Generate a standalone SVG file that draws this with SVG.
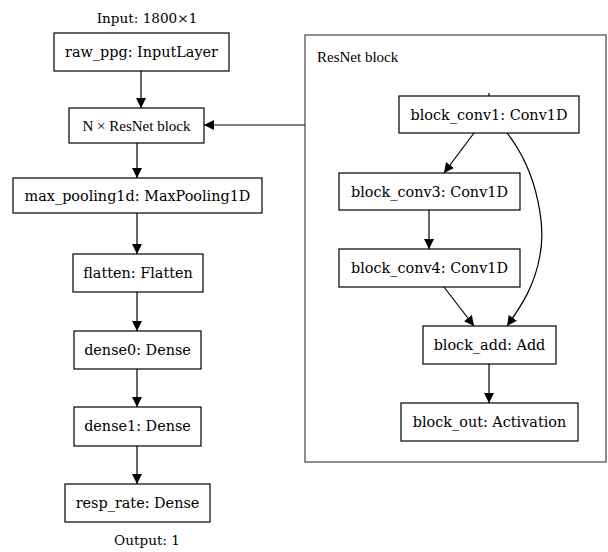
<svg xmlns="http://www.w3.org/2000/svg" width="608" height="552" viewBox="0 0 608 552">
<defs>
<marker id="ah" viewBox="0 0 10 10" refX="10" refY="5" markerWidth="10" markerHeight="10" markerUnits="userSpaceOnUse" orient="auto">
<path d="M0,0 L10,5 L0,10 Z" fill="#000"/>
</marker>
<style>
.box{fill:#fff;stroke:#000;stroke-width:1.2}
.t{font-family:"DejaVu Serif",serif;font-size:14.4px;fill:#000;text-anchor:middle}
.s{font-family:"Liberation Serif","Times New Roman",serif;font-size:15px;fill:#000}
.e{fill:none;stroke:#000;stroke-width:1.2}
</style>
</defs>
<rect width="608" height="552" fill="#fff"/>
<g id="cluster">
<rect x="305" y="35" width="301" height="427" fill="none" stroke="#444" stroke-width="1.2"/>
<text class="s" x="317" y="62">ResNet block</text>
</g>
<text class="t" x="147" y="23" style="font-size:13.6px">Input: 1800×1</text>
<text class="t" x="147" y="545" style="font-size:13.6px">Output: 1</text>
<g id="connectors">
<line class="e" x1="141" y1="71" x2="141" y2="108" marker-end="url(#ah)"/>
<line class="e" x1="137" y1="143" x2="137" y2="178" marker-end="url(#ah)"/>
<line class="e" x1="137" y1="213" x2="137" y2="254" marker-end="url(#ah)"/>
<line class="e" x1="137" y1="292" x2="137" y2="331" marker-end="url(#ah)"/>
<line class="e" x1="137" y1="369" x2="137" y2="407" marker-end="url(#ah)"/>
<line class="e" x1="137" y1="446" x2="137" y2="484" marker-end="url(#ah)"/>
<line class="e" x1="305" y1="125" x2="204" y2="125" marker-end="url(#ah)"/>
<line class="e" x1="489" y1="93" x2="489" y2="96"/>
<line class="e" x1="474" y1="133" x2="444" y2="173" marker-end="url(#ah)"/>
<line class="e" x1="429" y1="210" x2="429" y2="249" marker-end="url(#ah)"/>
<line class="e" x1="444" y1="287" x2="474" y2="326" marker-end="url(#ah)"/>
<path class="e" d="M507,133 C540,175 545,230 540,255 C535,285 522,305 507,326" marker-end="url(#ah)"/>
<line class="e" x1="489" y1="364" x2="489" y2="403" marker-end="url(#ah)"/>
</g>
<g id="raw_ppg"><rect class="box" x="54" y="33" width="175" height="38"/><text class="t" x="141.5" y="57">raw_ppg: InputLayer</text></g>
<g id="resnet_n"><rect class="box" x="69" y="108" width="135" height="35"/><text class="s" x="136.5" y="131" text-anchor="middle">N × ResNet block</text></g>
<g id="max_pooling1d"><rect class="box" x="13" y="178" width="249" height="35"/><text class="t" x="137.5" y="201">max_pooling1d: MaxPooling1D</text></g>
<g id="flatten"><rect class="box" x="73" y="254" width="130" height="38"/><text class="t" x="138" y="278">flatten: Flatten</text></g>
<g id="dense0"><rect class="box" x="74" y="331" width="127" height="38"/><text class="t" x="137.5" y="355">dense0: Dense</text></g>
<g id="dense1"><rect class="box" x="74" y="407" width="127" height="39"/><text class="t" x="137.5" y="431">dense1: Dense</text></g>
<g id="resp_rate"><rect class="box" x="65" y="484" width="145" height="38"/><text class="t" x="137.5" y="508">resp_rate: Dense</text></g>
<g id="block_conv1"><rect class="box" x="399" y="96" width="180" height="37"/><text class="t" x="489" y="120">block_conv1: Conv1D</text></g>
<g id="block_conv3"><rect class="box" x="339" y="173" width="181" height="37"/><text class="t" x="429.5" y="197">block_conv3: Conv1D</text></g>
<g id="block_conv4"><rect class="box" x="339" y="249" width="181" height="38"/><text class="t" x="429.5" y="273">block_conv4: Conv1D</text></g>
<g id="block_add"><rect class="box" x="423" y="326" width="133" height="38"/><text class="t" x="489.5" y="350">block_add: Add</text></g>
<g id="block_out"><rect class="box" x="401" y="403" width="177" height="38"/><text class="t" x="489.5" y="427">block_out: Activation</text></g>
</svg>
